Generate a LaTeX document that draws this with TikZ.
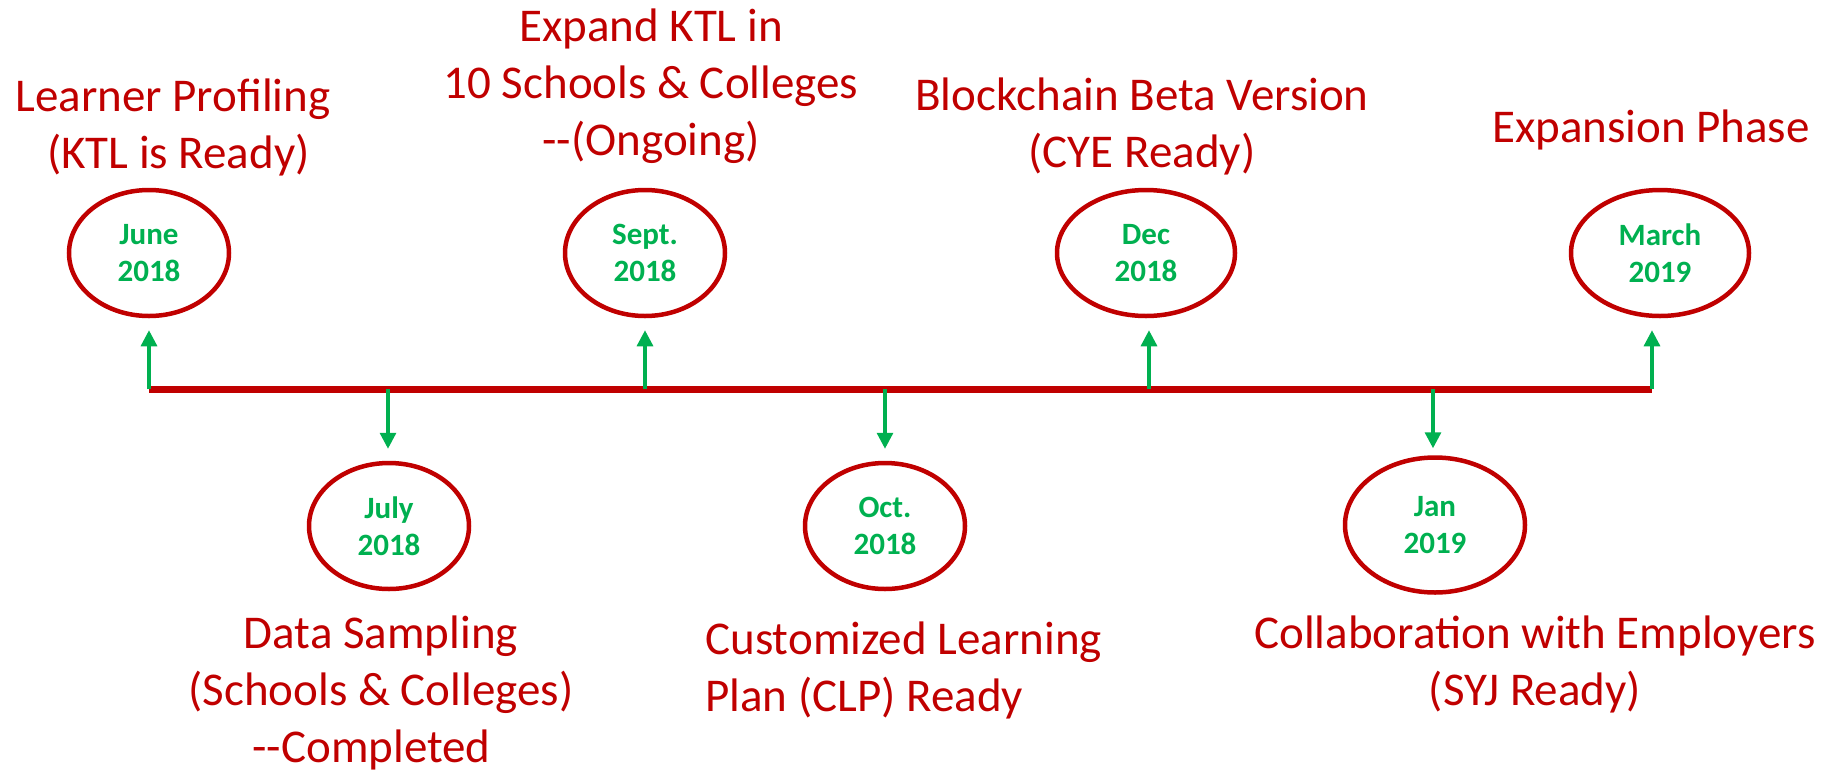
\documentclass[tikz,border=0pt]{standalone}
\usepackage{fontspec}
\setmainfont{Carlito}
\usetikzlibrary{arrows.meta,shapes.geometric}
\definecolor{dred}{HTML}{C00000}
\definecolor{dgreen}{HTML}{00B050}
\begin{document}
\begin{tikzpicture}[x=0.5pt,y=-0.5pt,
  datecirc/.style={ellipse, draw=dred, line width=2.25pt, inner sep=0pt,
    minimum width=80pt, minimum height=63pt, text=dgreen,
    font=\fontsize{15.5}{18.5}\selectfont\bfseries, align=center},
  widecirc/.style={minimum width=89pt},
  lbl/.style={text=dred, font=\fontsize{23.5}{28.5}\selectfont, inner sep=0pt, align=center, anchor=base},
  tline/.style={draw=dred, line width=3.5pt},
  arr/.style={draw=dgreen, line width=1.6pt, -{Triangle[length=8pt,width=8pt]}, shorten >=6pt}
]
\useasboundingbox (0,0) rectangle (1833,772);

% date circles
\node[datecirc] (c1) at (149,253) {June\\2018};
\node[datecirc] (c2) at (389,526) {July\\2018};
\node[datecirc] (c3) at (645,253) {Sept.\\2018};
\node[datecirc] (c4) at (885,526) {Oct.\\2018};
\node[datecirc,widecirc] (c5) at (1146,253) {Dec\\2018};
\node[datecirc,minimum width=90pt,minimum height=67.5pt] (c6) at (1435,525) {Jan\\2019};
\node[datecirc,widecirc] (c7) at (1660,253) {March\\2019};

% timeline
\coordinate (tl0) at (149,389);
\coordinate (tl1) at (1652,389);
\draw[tline] (tl0) -- (tl1);

% arrow bases on the timeline
\coordinate (s1) at (149,389);
\coordinate (s2) at (388,389);
\coordinate (s3) at (645,389);
\coordinate (s4) at (885,389);
\coordinate (s5) at (1149,389);
\coordinate (s6) at (1433,389);
\coordinate (s7) at (1652,389);

\draw[arr] (s1) -- (s1 |- c1.south);
\draw[arr] (s2) -- (s2 |- c2.north);
\draw[arr] (s3) -- (s3 |- c3.south);
\draw[arr] (s4) -- (s4 |- c4.north);
\draw[arr] (s5) -- (s5 |- c5.south);
\draw[arr,shorten >=3.5pt] (s6) -- (s6 |- c6.north);
\draw[arr] (s7) -- (s7 |- c7.south);

% labels (anchored at the baseline of their last line)
\node[lbl] (t1) at (173,168) {Learner Profiling\\\hspace*{0.23em}(KTL is Ready)};
\node[lbl] (t3) at (651,155) {Expand KTL in\\10 Schools \& Colleges\\-{}-(Ongoing)};
\node[lbl] (t5) at (1142,167) {Blockchain Beta Version\\(CYE Ready)};
\node[lbl] (t7) at (1651,142) {Expansion Phase};
\node[lbl] (t2) at (381,762) {Data Sampling\\(Schools \& Colleges)\\-{}-Completed\hspace*{0.4em}};
\node[lbl,align=left,anchor=base west] (t4) at (705,711) {Customized Learning\\Plan (CLP) Ready};
\node[lbl] (t6) at (1535,705) {Collaboration with Employers\\(SYJ Ready)};
\end{tikzpicture}
\end{document}
